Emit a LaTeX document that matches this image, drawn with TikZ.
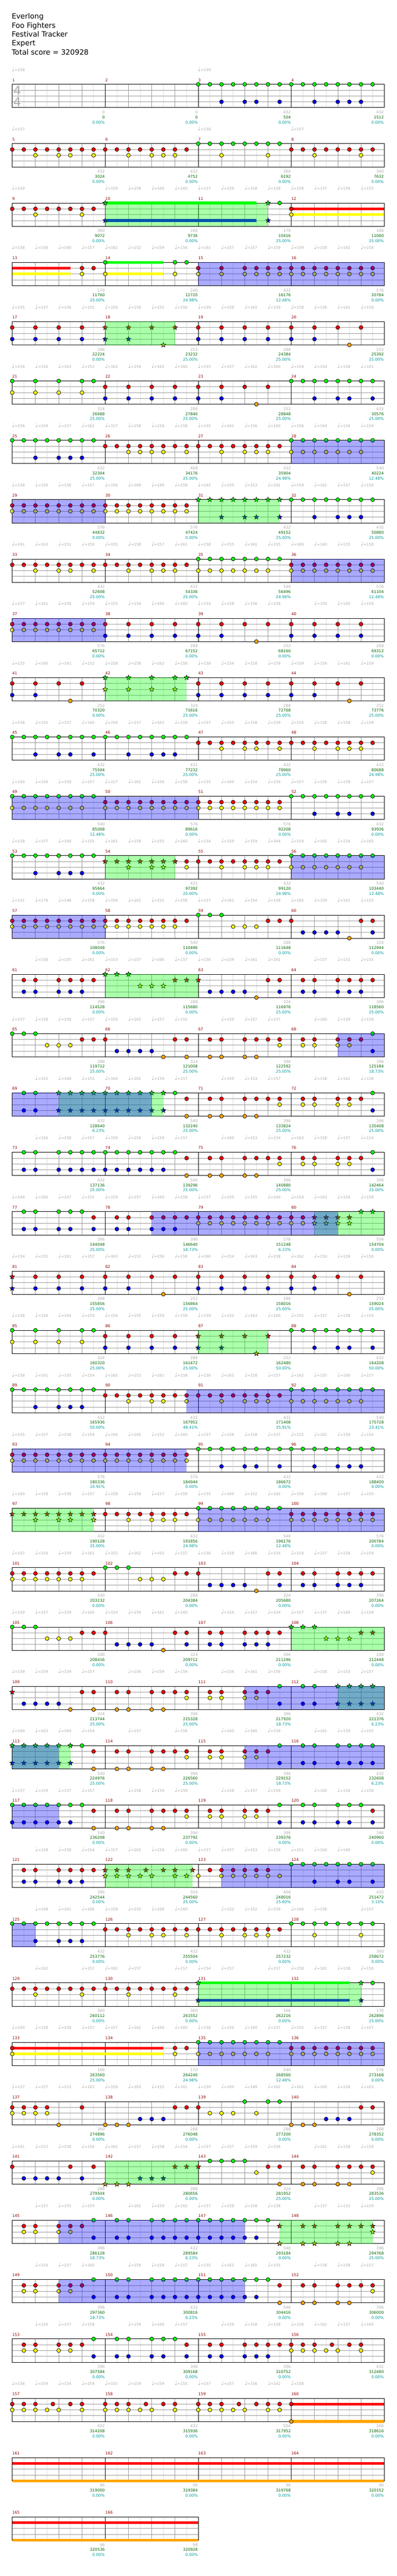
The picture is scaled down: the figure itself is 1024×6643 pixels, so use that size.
\documentclass[tikz,border=0pt]{standalone}
\usepackage{fontspec}
\setmainfont{DejaVu Sans}
\definecolor{lane0}{HTML}{00FF00}
\definecolor{lane1}{HTML}{FF0000}
\definecolor{lane2}{HTML}{FFFF00}
\definecolor{lane3}{HTML}{0000FF}
\definecolor{lane4}{HTML}{FFA500}
\tikzstyle{note} = [draw=black, line width=.75pt]
\tikzstyle{halfbeat} = [draw=black!13, line width=.75pt]
\tikzstyle{beat} = [draw=black!40, line width=.75pt]
\tikzstyle{bar} = [draw=black, line width=.75pt]
\tikzstyle{odblue} = [fill=lane3, fill opacity=.333]
\tikzstyle{odgreen} = [fill=lane0, fill opacity=.333]
\tikzstyle{title} = [anchor=base west, inner sep=0, font=\fontsize{14}{14}\selectfont]
\tikzstyle{small} = [inner sep=0, font=\fontsize{7.5}{7.5}\selectfont]
\tikzstyle{barnum} = [small, anchor=base west, text=black!45!red]
\tikzstyle{bpm} = [small, anchor=base west, text=black!33, font=\fontsize{7.2}{7.2}\selectfont]
\tikzstyle{ticks} = [small, anchor=base east, text=black!33]
\tikzstyle{total} = [small, anchor=base east, text=green!39!black]
\tikzstyle{pct} = [small, anchor=base east, text={rgb,255:red,0;green,153;blue,153}]
\tikzstyle{timesig} = [inner sep=0, text=black!33, font=\fontsize{24}{24}\selectfont]

\newenvironment{staffrow}[3]{%
    \begin{scope}[shift={(0,217.5+153*#1)}]
    \pgfmathtruncatemacro\nslots{8*#3}
    \foreach \s in {1,3,...,\nslots} {\draw [halfbeat] ({31.5+30*\s},0) -- ({31.5+30*\s},60);}
    \foreach \s in {2,4,...,\nslots} {\draw [beat] ({31.5+30*\s},0) -- ({31.5+30*\s},60);}
    \foreach \l in {15,30,45} {\draw [beat] (31.5,\l) -- ({31.5+30*\nslots},\l);}
    \foreach \s in {8,16,...,\nslots} {\draw [bar] ({31.5+30*\s},0) -- ({31.5+30*\s},60);}
    \draw [bar] (31.5,0) rectangle ({31.5+30*\nslots},60);
    \foreach \i in {1,...,#3} {
        \pgfmathtruncatemacro\m{#2+\i-1}
        \node [barnum] (bar\m) at ({31.5+240*(\i-1)},-7.5) {\m};
    }
}{\end{scope}}
\newcommand{\tempos}[1]{\foreach \b [count=\i from 0] in {#1} {
    \ifnum\b>0 \node [bpm] (bpm\i) at ({30.5+60*\i},-33.5) {{\fontsize{11}{11}\selectfont ♩}=\b}; \fi}}
\newcommand{\notes}[2]{\foreach \s in {#2} {\draw [note, fill=lane#1] ({31.5+30*\s},{15*#1}) circle (5);}}
\newcommand{\stars}[2]{\foreach \s in {#2} {\draw [note, fill=lane#1] ({31.5+30*\s},{15*#1})
    +(-90:6.5) -- +(-54:2.7) -- +(-18:6.5) -- +(18:2.7) -- +(54:6.5) -- +(90:2.7) -- +(126:6.5) -- +(162:2.7) -- +(198:6.5) -- +(234:2.7) -- cycle;}}
\newcommand{\hold}[3]{\fill [lane#1] ({31.5+30*#2},{15*#1-3.5}) rectangle ({31.5+30*#3},{15*#1+3.5});}
\newcommand{\blueod}[2]{\fill [odblue] ({31.5+30*#1},0) rectangle ({31.5+30*#2},60);}
\newcommand{\greenod}[2]{\fill [odgreen] ({31.5+30*#1},0) rectangle ({31.5+30*#2},60);}
\newcommand{\scores}[1]{\foreach \mticks/\mtotal/\mpct [count=\i from 1] in {#1} {
    \node [ticks] (ticks\i) at ({30.5+240*\i},75.5) {\mticks};
    \node [total] (total\i) at ({30.5+240*\i},88.5) {\mtotal};
    \node [pct] (pct\i) at ({30.5+240*\i},101.5) {\mpct\%};
}}

\begin{document}
\begin{tikzpicture}[x=.75pt, y=-.75pt]

    \useasboundingbox (0,0) rectangle (1024,6643);
    \fill [white] (0,0) rectangle (1024,6643);

    \node (song) [title] at (30,49) {Everlong};
    \node (band) [title] at (30,72) {Foo Fighters};
    \node (chart) [title] at (30,95) {Festival Tracker};
    \node (level) [title] at (30,118) {Expert};
    \node (score) [title] at (30,141) {Total score = 320928};

    \begin{staffrow}{0}{1}{4}
        \node (sigtop) [timesig] at (44.5,15.5) {4};
        \node (sigbottom) [timesig] at (44.5,45.5) {4};
        \tempos{158,0,0,0,0,0,0,0,159,0,0,0,0,0,0,0}
        \notes{0}{16,...,31}
        \notes{3}{18,20,21,23,26,28,29,30}
        \scores{0/0/0.00,0/0/0.00,432/504/0.00,432/1512/0.00}
    \end{staffrow}

    \begin{staffrow}{1}{5}{4}
        \tempos{157,0,0,0,0,0,0,0,158,0,0,0,157,0,0,0}
        \notes{0}{16,...,23}
        \notes{1}{0,...,15,24,25,26,27,28,29,30,31}
        \notes{2}{2,4,5,7,10,12,13,14,18,22,26,30}
        \scores{432/3024/0.00,432/4752/0.00,360/6192/0.00,360/7632/0.00}
    \end{staffrow}

    \begin{staffrow}{2}{9}{4}
        \tempos{159,0,0,0,159,158,160,160,157,159,158,158,158,157,156,155}
        \hold{0}{8}{21} \hold{3}{8}{21} \hold{1}{24}{32} \hold{2}{24}{32}
        \notes{0}{23}
        \notes{1}{0,...,7,24}
        \notes{2}{2,6,24}
        \stars{0}{8,22}
        \stars{3}{8,22}
        \greenod{8}{22}
        \scores{360/9072/0.00,166/9736/0.00,170/10416/25.00,166/11080/25.00}
    \end{staffrow}

    \begin{staffrow}{3}{13}{4}
        \tempos{158,158,160,157,162,152,159,156,161,157,157,159,159,158,162,158}
        \hold{1}{0}{5} \hold{2}{0}{5} \hold{0}{8}{13} \hold{2}{8}{13}
        \notes{0}{8,14,15}
        \notes{1}{6,7,16,18,20,21,...,31}
        \notes{2}{6,8,14,16,18,20,21,...,31}
        \blueod{16}{32}
        \scores{170/11760/25.00,240/12720/24.98,432/16176/12.48,576/20784/0.00}
    \end{staffrow}

    \begin{staffrow}{4}{17}{4}
        \tempos{155,157,156,155,156,158,155,156,159,158,161,159,158,156,161,159}
        \notes{1}{0,2,4,6,16,18,20,22,24,26,28,30}
        \notes{3}{0,2,4,6,16,18,20,22,24,26}
        \notes{4}{29}
        \stars{1}{8,10,12,14}
        \stars{3}{8,10}
        \stars{4}{13}
        \greenod{8}{14}
        \scores{288/22224/0.00,252/23232/25.00,288/24384/25.00,252/25392/25.00}
    \end{staffrow}

    \begin{staffrow}{5}{21}{4}
        \tempos{156,156,163,152,162,154,162,160,155,157,162,160,154,154,158,161}
        \notes{0}{0,2,4,6,7,24,25,...,31}
        \notes{1}{8,10,12,14,16,18,20,22}
        \notes{2}{0,2,4,6}
        \notes{3}{8,10,12,14,16,18,26,28,29,31}
        \notes{4}{21}
        \scores{324/26688/25.00,288/27840/25.00,252/28848/25.00,432/30576/25.00}
    \end{staffrow}

    \begin{staffrow}{6}{25}{4}
        \tempos{156,159,157,162,157,158,156,158,155,162,156,160,156,164,154,159}
        \notes{0}{0,...,7,24,25,26,27,28,29,30,31}
        \notes{1}{8,...,23}
        \notes{2}{10,11,12,13,15,18,20,21,22,24,25,26,27,28,29,30}
        \notes{3}{2,4,5,6}
        \blueod{24}{32}
        \scores{432/32304/25.00,468/34176/25.00,432/35904/24.98,540/40224/12.48}
    \end{staffrow}

    \begin{staffrow}{7}{29}{4}
        \tempos{158,156,156,157,156,169,149,158,162,159,153,161,154,162,157,156}
        \notes{0}{24,...,31}
        \notes{1}{0,...,15}
        \notes{2}{0,...,15}
        \notes{3}{26,28,29,30}
        \stars{0}{16,...,23}
        \stars{3}{18,20,21,23}
        \blueod{0}{8}
        \greenod{16}{23}
        \scores{576/44832/0.00,576/47424/0.00,432/49152/25.00,432/50880/25.00}
    \end{staffrow}

    \begin{staffrow}{8}{33}{4}
        \tempos{161,163,151,159,155,158,157,161,158,155,161,155,160,160,155,158}
        \notes{0}{16,...,23}
        \notes{1}{0,...,15,24,25,26,27,28,29,30,31}
        \notes{2}{2,4,5,7,10,12,13,14,16,17,18,19,20,21,22,24,25,26,27,28,29,30,31}
        \blueod{24}{32}
        \scores{432/52608/25.00,432/54336/25.00,540/56496/24.98,576/61104/12.48}
    \end{staffrow}

    \begin{staffrow}{9}{37}{4}
        \tempos{157,161,158,159,155,154,160,160,154,158,156,158,0,159,160,159}
        \notes{1}{0,...,7,8,10,12,14,16,18,20,22,24,26,28,30}
        \notes{2}{0,...,7}
        \notes{3}{8,10,12,14,16,18,24,26,28,30}
        \notes{4}{21}
        \blueod{0}{8}
        \scores{576/65712/0.00,288/67152/0.00,252/68160/0.00,288/69312/0.00}
    \end{staffrow}

    \begin{staffrow}{10}{41}{4}
        \tempos{155,160,161,152,158,158,162,158,158,154,158,159,159,156,161,159}
        \notes{1}{0,2,4,6,16,18,20,22,24,26,28,30}
        \notes{3}{0,2,16,18,20,22,24,26}
        \notes{4}{5,29}
        \stars{0}{8,10,12,14,15}
        \stars{2}{8,10,12,14}
        \greenod{8}{15}
        \scores{252/70320/0.00,324/71616/25.00,288/72768/25.00,252/73776/25.00}
    \end{staffrow}

    \begin{staffrow}{11}{45}{4}
        \tempos{158,155,157,160,156,157,163,159,157,155,158,159,155,158,158,159}
        \notes{0}{0,...,15}
        \notes{1}{16,...,31}
        \notes{2}{18,20,21,23,26,28,29,30}
        \notes{3}{2,4,5,7,10,12,13,14}
        \scores{432/75504/25.00,432/77232/25.00,432/78960/25.00,432/80688/24.98}
    \end{staffrow}

    \begin{staffrow}{12}{49}{4}
        \tempos{160,156,159,157,157,161,156,158,155,164,154,159,157,156,158,157}
        \notes{0}{0,...,7,24,25,26,27,28,29,30,31}
        \notes{1}{8,...,23}
        \notes{2}{0,1,2,3,4,5,6,8,9,10,11,12,13,14,15,16,17,18,19,20,21,22,23}
        \notes{3}{26,28,29,31}
        \blueod{0}{16}
        \scores{540/85008/12.48,576/89616/0.00,576/92208/0.00,432/93936/0.00}
    \end{staffrow}

    \begin{staffrow}{13}{53}{4}
        \tempos{158,157,160,155,161,158,155,160,154,159,159,164,154,165,154,165}
        \notes{0}{0,...,7,24,25,26,27,28,29,30,31}
        \notes{1}{15,...,23}
        \notes{2}{15,18,20,21,22,24,25,26,27,28,29,30}
        \notes{3}{2,4,5,6}
        \stars{1}{8,...,14}
        \stars{2}{10,12,13}
        \greenod{8}{14}
        \blueod{24}{32}
        \scores{432/95664/0.00,432/97392/25.00,432/99120/24.98,540/103440/12.48}
    \end{staffrow}

    \begin{staffrow}{14}{57}{4}
        \tempos{151,170,148,158,156,162,151,158,157,161,154,158,165,159,161,155}
        \notes{0}{16,17,18}
        \notes{1}{0,...,15,22,23,24,30,31}
        \notes{2}{0,...,14,19,20,21}
        \notes{3}{25,26,27,28,31}
        \notes{4}{29}
        \blueod{0}{8}
        \scores{576/108048/0.00,540/110496/0.00,288/111648/0.00,324/112944/0.00}
    \end{staffrow}

    \begin{staffrow}{15}{61}{4}
        \tempos{0,158,155,161,153,157,166,157,156,159,161,161,0,157,151,155}
        \notes{1}{1,2,4,5,6,7,22,23,25,26,28,29,30,31}
        \notes{3}{1,2,4,5,6,17,18,19,20,23,25,26,28,29,30}
        \notes{4}{21}
        \stars{0}{8,9,10}
        \stars{2}{11,12,13}
        \stars{1}{14,15,16}
        \greenod{8}{16}
        \scores{396/114528/0.00,288/115680/0.00,324/116976/25.00,396/118560/25.00}
    \end{staffrow}

    \begin{staffrow}{16}{65}{4}
        \tempos{157,158,158,157,156,165,157,155,0,159,157,157,0,160,159,159}
        \notes{0}{0,1,2,31}
        \notes{1}{6,7,8,14,15,17,18,20,21,22,23,25,26,28,29,30}
        \notes{2}{3,4,5,23,25,26,28,29}
        \notes{3}{9,10,11,12,31}
        \notes{4}{13,15,17,18,20,21}
        \blueod{28}{32}
        \scores{288/119712/25.00,324/121008/25.00,396/122592/25.00,396/125184/18.73}
    \end{staffrow}

    \begin{staffrow}{17}{69}{4}
        \tempos{0,155,160,155,160,161,159,157,0,159,153,157,0,158,161,158}
        \notes{0}{1,2,14,31}
        \notes{1}{15,17,18,20,21,22,23,25,26,28,29,30}
        \notes{2}{23,25,26,28,29}
        \notes{3}{1,2,31}
        \notes{4}{15,17,18,20,21}
        \stars{0}{4,...,13}
        \stars{3}{4,...,13}
        \greenod{4}{13}
        \blueod{0}{12}
        \scores{432/128640/6.23,540/132240/25.00,396/133824/25.00,396/135408/25.00}
    \end{staffrow}

    \begin{staffrow}{18}{73}{4}
        \tempos{0,156,158,157,159,156,159,157,0,160,153,154,163,158,157,154}
        \notes{0}{1,2,4,5,6,7,8,9,10,11,12,13,14,31}
        \notes{1}{15,17,18,20,21,22,23,25,26,28,29,30}
        \notes{2}{23,25,26,28,29}
        \notes{3}{1,2,4,5,6,7,8,9,10,11,12,13,31}
        \notes{4}{15,17,18,20,21}
        \scores{432/137136/25.00,540/139296/25.00,396/140880/25.00,396/142464/25.00}
    \end{staffrow}

    \begin{staffrow}{19}{77}{4}
        \tempos{164,160,157,155,159,157,160,158,157,159,155,164,154,163,154,158}
        \notes{0}{1,2,4,5,6}
        \notes{1}{7,9,10,12,13,...,25}
        \notes{2}{16,...,25}
        \notes{3}{1,2,4,5,7,9,10,12,13,14}
        \stars{1}{26,27,28,29}
        \stars{2}{26,27,28,29}
        \stars{0}{30,31}
        \greenod{26}{32}
        \blueod{12}{28}
        \scores{396/144048/25.00,396/146640/18.73,576/151248/6.23,504/154704/0.00}
    \end{staffrow}

    \begin{staffrow}{20}{81}{4}
        \tempos{154,155,161,157,163,153,156,158,160,154,163,158,162,150,159,158}
        \notes{1}{2,4,...,30}
        \notes{3}{2,4,6,8,10,16,18,20,22,24,26}
        \notes{4}{13,29}
        \stars{1}{0}
        \stars{3}{0}
        \scores{288/155856/25.00,252/156864/25.00,288/158016/25.00,252/159024/25.00}
    \end{staffrow}

    \begin{staffrow}{21}{85}{4}
        \tempos{158,156,164,159,156,155,159,159,159,152,163,160,155,157,158,159}
        \notes{0}{0,2,4,6,7,24,25,26,27,28,29,30,31}
        \notes{1}{8,10,12,14}
        \notes{2}{0,2,4,6}
        \notes{3}{8,10,12,14,26,28,29,31}
        \stars{1}{16,18,20,22}
        \stars{3}{16,18}
        \stars{4}{21}
        \greenod{16}{22}
        \scores{324/160320/25.00,288/161472/25.00,252/162480/50.00,432/164208/50.00}
    \end{staffrow}

    \begin{staffrow}{22}{89}{4}
        \tempos{158,161,155,154,165,153,161,158,156,161,158,157,162,155,160,157}
        \notes{0}{0,...,7,24,25,26,27,28,29,30,31}
        \notes{1}{8,...,23}
        \notes{2}{10,12,13,15,18,20,21,22,24,25,26,27,28,29,30}
        \notes{3}{2,4,5,6}
        \blueod{15}{32}
        \scores{432/165936/50.00,432/167952/48.41,432/171408/35.91,540/175728/23.41}
    \end{staffrow}

    \begin{staffrow}{23}{93}{4}
        \tempos{155,157,158,159,156,165,152,160,157,158,158,157,155,162,159,154}
        \notes{0}{16,...,31}
        \notes{1}{0,...,15}
        \notes{2}{0,...,15}
        \notes{3}{18,20,21,23,26,28,29,30}
        \blueod{0}{15}
        \scores{576/180336/10.91,576/184944/0.00,432/186672/0.00,432/188400/0.00}
    \end{staffrow}

    \begin{staffrow}{24}{97}{4}
        \tempos{160,158,158,157,158,159,157,159,155,164,152,162,156,160,157,150}
        \notes{0}{16,...,23}
        \notes{1}{8,...,15,24,25,26,27,28,29,30,31}
        \notes{2}{10,12,13,14,16,17,18,19,20,21,22,24,25,26,27,28,29,30,31}
        \stars{1}{0,...,7}
        \stars{2}{2,4,5,7}
        \greenod{0}{7}
        \blueod{16}{32}
        \scores{432/190128/25.00,432/191856/24.98,540/196176/12.48,576/200784/0.00}
    \end{staffrow}

    \begin{staffrow}{25}{101}{4}
        \tempos{167,154,159,161,152,162,162,157,156,158,166,154,154,157,156,159}
        \notes{0}{8,9,10}
        \notes{1}{0,...,7,14,15,16,22,23,25,26,28,29,30,31}
        \notes{2}{0,...,6,11,12,13}
        \notes{3}{17,18,19,20,23,25,26,28,29,30}
        \notes{4}{21}
        \scores{540/203232/0.00,288/204384/0.00,324/205680/0.00,396/207264/0.00}
    \end{staffrow}

    \begin{staffrow}{26}{105}{4}
        \tempos{159,157,159,160,154,159,161,160,0,154,157,154,157,157,160,158}
        \notes{0}{0,1,2}
        \notes{1}{6,7,8,14,15,17,18,20,21,22,23}
        \notes{2}{3,4,5}
        \notes{3}{9,10,11,12,15,17,18,20,21,22}
        \notes{4}{13}
        \stars{0}{24,25,26}
        \stars{2}{27,28,29}
        \stars{1}{30,31}
        \greenod{24}{32}
        \scores{288/208416/0.00,324/209712/0.00,396/211296/0.00,288/212448/0.00}
    \end{staffrow}

    \begin{staffrow}{27}{109}{4}
        \tempos{159,159,159,157,0,156,159,159,0,156,161,156,0,158,153,157}
        \notes{0}{23,25,26}
        \notes{1}{6,7,9,10,12,13,14,15,17,18,20,21,22}
        \notes{2}{15,17,18,20,21}
        \notes{3}{1,2,3,4,23,25,26}
        \notes{4}{5,7,9,10,12,13}
        \stars{1}{0}
        \stars{0}{28,29,30,31}
        \stars{3}{28,29,30,31}
        \greenod{28}{32}
        \blueod{20}{32}
        \scores{324/213744/25.00,396/215328/25.00,396/217920/18.73,432/221376/6.23}
    \end{staffrow}

    \begin{staffrow}{28}{113}{4}
        \tempos{160,163,164,154,0,157,0,156,0,160,160,158,0,161,159,155}
        \notes{0}{6,23,25,26,28,29,30,31}
        \notes{1}{7,9,10,12,13,14,15,17,18,20,21,22}
        \notes{2}{15,17,18,20,21}
        \notes{3}{23,25,26,28,29,30,31}
        \notes{4}{7,9,10,12,13}
        \stars{0}{0,...,5}
        \stars{3}{0,...,5}
        \greenod{0}{5}
        \blueod{0}{4}
        \blueod{20}{32}
        \scores{540/224976/25.00,396/226560/25.00,396/229152/18.73,432/232608/6.23}
    \end{staffrow}

    \begin{staffrow}{29}{117}{4}
        \tempos{157,159,157,157,0,158,159,159,0,158,157,159,0,160,156,158}
        \notes{0}{0,...,6,23,25,26,28,29,30}
        \notes{1}{7,9,10,12,13,14,15,17,18,20,21,22,31}
        \notes{2}{15,17,18,20,21}
        \notes{3}{0,...,5,23,25,26,28,29,31}
        \notes{4}{7,9,10,12,13}
        \blueod{0}{4}
        \scores{540/236208/0.00,396/237792/0.00,396/239376/0.00,396/240960/0.00}
    \end{staffrow}

    \begin{staffrow}{30}{121}{4}
        \tempos{0,158,158,154,157,162,156,160,157,157,153,158,151,160,160,0}
        \notes{0}{24,...,31}
        \notes{1}{1,2,4,5,6,7,17,18,19,20,21,22}
        \notes{2}{16,18,19,20,21,22,23}
        \notes{3}{1,2,4,5,6,26,28,29,31}
        \stars{1}{8,9,10,11.5,13,14,15.5}
        \stars{2}{8,9,10,11,12,14,15}
        \greenod{8}{15.5}
        \blueod{18}{32}
        \scores{396/242544/0.00,504/244560/25.00,468/248016/15.60,432/251472/3.10}
    \end{staffrow}

    \begin{staffrow}{31}{125}{4}
        \tempos{0,148,161,166,158,150,168,160,0,152,152,158,166,156,0,157}
        \notes{0}{0,...,7,24,25,26,27,28,29,30,31}
        \notes{1}{8,...,23}
        \notes{2}{10,12,13,15,18,20,21,22,26,30}
        \notes{3}{2,4,5,6}
        \blueod{0}{2}
        \scores{432/253776/0.00,432/255504/0.00,432/257232/0.00,360/258672/0.00}
    \end{staffrow}

    \begin{staffrow}{32}{129}{4}
        \tempos{0,162,0,157,162,157,0,157,154,157,0,157,158,161,158,158}
        \hold{0}{16}{29} \hold{3}{16}{29}
        \notes{0}{31}
        \notes{1}{0,...,15}
        \notes{2}{2,6,10,14}
        \stars{0}{16,30}
        \stars{3}{16,30}
        \greenod{16}{30}
        \scores{360/260112/0.00,360/261552/0.00,166/262216/0.00,170/262896/25.00}
    \end{staffrow}

    \begin{staffrow}{33}{133}{4}
        \tempos{160,158,158,157,157,162,160,160,158,156,160,157,155,157,158,157}
        \hold{1}{0}{13} \hold{2}{0}{13}
        \notes{0}{16,...,23}
        \notes{1}{0,14,15,24,25,26,27,28,29,30,31}
        \notes{2}{0,14,16,17,18,19,20,21,22,24,25,26,27,28,29,30,31}
        \blueod{16}{32}
        \scores{166/263560/25.00,170/264240/24.98,540/268560/12.48,576/273168/0.00}
    \end{staffrow}

    \begin{staffrow}{34}{137}{4}
        \tempos{157,157,153,162,158,163,155,161,159,160,148,162,161,160,156,163}
        \notes{0}{20,22,23}
        \notes{1}{0,1,2,3,6,14,15,16,30,31}
        \notes{2}{0,1,2,3,17,18,19,21}
        \notes{3}{11,12,13,27,28,29}
        \notes{4}{4,8,9,10,24,25,26}
        \scores{360/274896/0.00,288/276048/0.00,288/277200/0.00,288/278352/0.00}
    \end{staffrow}

    \begin{staffrow}{35}{141}{4}
        \tempos{161,153,158,156,162,157,158,154,157,157,159,156,0,161,158,158}
        \notes{0}{17,18,19,20}
        \notes{1}{0,5,7,22,23,25,26,28,29,30,31}
        \notes{2}{21,31}
        \notes{3}{1,2,3,4,6}
        \notes{4}{23,25,26,28,29}
        \stars{4}{8,9,10}
        \stars{3}{11,12,13}
        \stars{1}{14,15,16}
        \greenod{8}{16}
        \scores{288/279504/0.00,288/280656/0.00,324/281952/25.00,396/283536/25.00}
    \end{staffrow}

    \begin{staffrow}{36}{145}{4}
        \tempos{0,157,155,159,0,161,159,162,157,158,158,158,0,157,153,159}
        \notes{0}{7,9,10,12,13,...,22}
        \notes{1}{1,2,4,5,6}
        \notes{2}{1,2,4,5}
        \notes{3}{7,9,10,12,13,...,21}
        \stars{1}{23,25,26,28,29,30,31}
        \stars{2}{31}
        \stars{4}{23,25,26,28,29}
        \blueod{4}{20}
        \greenod{23}{31}
        \scores{396/286128/18.73,432/289584/6.23,540/293184/0.00,396/294768/25.00}
    \end{staffrow}

    \begin{staffrow}{37}{149}{4}
        \tempos{0,154,157,160,0,159,158,157,155,161,165,155,0,158,158,157}
        \notes{0}{7,9,10,12,13,...,22}
        \notes{1}{1,2,4,5,6,23,25,26,28,29,30,31}
        \notes{2}{1,2,4,5,31}
        \notes{3}{7,9,10,12,13,...,21}
        \notes{4}{23,25,26,28,29}
        \blueod{4}{20}
        \scores{396/297360/18.73,432/300816/6.23,540/304416/0.00,396/306000/0.00}
    \end{staffrow}

    \begin{staffrow}{38}{153}{4}
        \tempos{0,156,157,158,0,159,160,157,0,159,158,158,156,162,157,160}
        \notes{0}{7,9,10,12,13,14}
        \notes{1}{1,2,4,5,6,15,17,18,20,21,22,23,24,25,26,27.5,29,30}
        \notes{2}{1,2,4,5,24,25,26,27,28,30}
        \notes{3}{7,9,10,12,13,15,17,18,20,21,22}
        \scores{396/307584/0.00,396/309168/0.00,396/310752/0.00,432/312480/0.00}
    \end{staffrow}

    \begin{staffrow}{39}{157}{4}
        \tempos{156,159,154,159,155,159,159,155,157,157,156,142,158,0,0,0}
        \hold{1}{24}{32} \hold{4}{24}{32}
        \notes{1}{0,1,2,3.5,5,6,8,9,10,11.5,13,14,16,17,18,19.5,21,22,23,24}
        \notes{2}{0,1,2,3,4,6,8,9,10,11,12,14,16,17,18,19,20,22,23}
        \notes{4}{24}
        \scores{432/314208/0.00,432/315936/0.00,504/317952/0.00,166/318616/0.00}
    \end{staffrow}

    \begin{staffrow}{40}{161}{4}
        \hold{1}{0}{32} \hold{4}{0}{32}
        \scores{96/319000/0.00,96/319384/0.00,96/319768/0.00,96/320152/0.00}
    \end{staffrow}

    \begin{staffrow}{41}{165}{2}
        \hold{1}{0}{16} \hold{4}{0}{16}
        \scores{96/320536/0.00,98/320928/0.00}
    \end{staffrow}

\end{tikzpicture}
\end{document}
